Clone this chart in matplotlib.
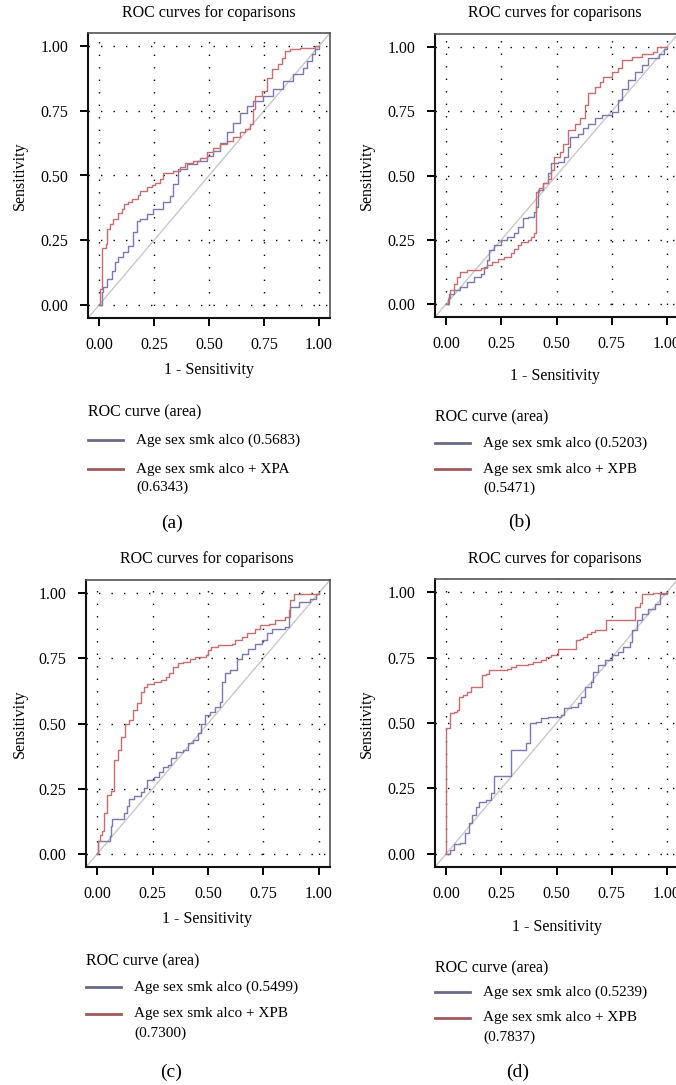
import matplotlib
matplotlib.use("Agg")
import matplotlib.pyplot as plt
from matplotlib.lines import Line2D

# Datos: (1 - especificidad, sensibilidad)
a_blue_x = [0, .012, .02, .035, .058, .073, .088, .11, .133, .156, .171, .186, .217, .247, .292, .323, .338, .36, .398, .444, .489, .52, .55, .58, .611, .641, .671, .702, .747, .792, .838, .883, .929, .944, .967, .982, 1]
a_blue_y = [0, .049, .068, .10, .132, .165, .184, .203, .229, .28, .325, .332, .351, .37, .396, .422, .467, .524, .544, .557, .576, .595, .627, .666, .704, .743, .769, .788, .807, .833, .865, .891, .916, .942, .968, .987, 1]
a_red_x = [0, .005, .012, .032, .038, .05, .065, .088, .103, .114, .133, .148, .179, .186, .217, .239, .255, .277, .292, .338, .368, .391, .429, .459, .489, .52, .55, .58, .611, .641, .664, .686, .702, .709, .739, .762, .785, .815, .83, .845, .868, .914, .982, 1]
a_red_y = [0, .062, .222, .235, .293, .312, .332, .357, .37, .389, .398, .409, .424, .441, .454, .463, .47, .486, .509, .518, .531, .55, .557, .569, .589, .608, .621, .634, .647, .666, .679, .698, .756, .807, .826, .878, .91, .929, .955, .981, .987, .994, 1, 1]

b_blue_x = [0, .012, .035, .065, .096, .126, .157, .17, .187, .195, .217, .248, .278, .309, .324, .347, .369, .40, .407, .415, .438, .46, .476, .506, .536, .552, .559, .597, .62, .643, .673, .704, .749, .78, .795, .825, .856, .886, .916, .962, .985, 1]
b_blue_y = [0, .04, .054, .067, .087, .106, .119, .145, .171, .21, .229, .249, .262, .275, .30, .333, .339, .359, .378, .443, .469, .508, .547, .553, .573, .611, .65, .663, .683, .702, .722, .734, .747, .793, .838, .87, .903, .929, .955, .974, .99, 1]
b_red_x = [0, .008, .02, .035, .05, .065, .096, .126, .157, .187, .21, .233, .263, .293, .309, .324, .339, .369, .384, .40, .407, .422, .438, .46, .476, .49, .514, .529, .552, .582, .605, .628, .643, .673, .696, .711, .749, .78, .795, .84, .886, .939, .954, 1]
b_red_y = [0, .022, .054, .08, .106, .126, .132, .132, .139, .152, .165, .177, .184, .197, .216, .229, .242, .249, .262, .275, .437, .45, .469, .488, .521, .573, .592, .624, .676, .702, .722, .773, .819, .845, .864, .883, .903, .916, .948, .961, .974, .98, 1, 1]

c_blue_x = [0, .003, .045, .058, .064, .068, .106, .121, .133, .144, .167, .197, .212, .227, .258, .28, .295, .318, .333, .356, .386, .409, .432, .455, .47, .485, .508, .53, .553, .561, .576, .598, .629, .652, .682, .712, .742, .765, .788, .848, .864, .871, .909, .962, .985, 1]
c_blue_y = [0, .048, .048, .068, .106, .134, .134, .157, .182, .21, .223, .236, .252, .284, .294, .316, .335, .341, .367, .392, .399, .424, .437, .462, .50, .532, .545, .564, .583, .66, .692, .704, .749, .768, .787, .806, .819, .845, .864, .87, .908, .946, .966, .978, .997, 1]
c_red_x = [0, .003, .012, .023, .033, .045, .064, .076, .094, .109, .124, .144, .164, .182, .197, .212, .227, .258, .288, .31, .326, .341, .364, .386, .417, .44, .492, .50, .515, .545, .606, .621, .652, .674, .712, .735, .773, .803, .848, .864, .871, .886, 1]
c_red_y = [0, .048, .074, .087, .157, .227, .24, .36, .40, .45, .50, .513, .55, .577, .62, .64, .653, .66, .666, .679, .692, .717, .73, .736, .749, .755, .762, .781, .794, .80, .806, .819, .832, .845, .864, .876, .883, .896, .908, .934, .972, .997, 1]

d_blue_x = [0, .017, .035, .065, .088, .103, .119, .134, .149, .179, .202, .217, .278, .296, .339, .362, .381, .407, .43, .46, .521, .536, .567, .597, .612, .628, .658, .666, .688, .719, .749, .78, .802, .833, .843, .866, .886, .916, .947, .97, 1]
d_blue_y = [0, .016, .036, .042, .08, .118, .15, .181, .20, .207, .232, .296, .296, .397, .397, .423, .499, .505, .518, .524, .53, .556, .562, .575, .60, .638, .657, .695, .721, .74, .759, .772, .791, .81, .854, .892, .917, .937, .956, .994, 1]
d_red_x = [0, 0, .012, .017, .035, .05, .058, .078, .093, .111, .157, .164, .179, .195, .278, .293, .316, .369, .392, .43, .453, .476, .506, .582, .59, .605, .62, .64, .658, .673, .719, .726, .848, .856, .878, .886, .939, 1]
d_red_y = [0, .48, .48, .537, .543, .55, .60, .607, .619, .638, .638, .683, .689, .702, .708, .714, .721, .727, .733, .74, .753, .759, .784, .784, .816, .822, .829, .839, .848, .854, .854, .892, .892, .943, .958, .994, .996, 1]

panel_tags = ["(a)", "(b)", "(c)", "(d)"]
blue_labels = ["Age sex smk alco (0.5683)", "Age sex smk alco (0.5203)",
               "Age sex smk alco (0.5499)", "Age sex smk alco (0.5239)"]
red_labels = ["Age sex smk alco + XPA", "Age sex smk alco + XPB",
              "Age sex smk alco + XPB", "Age sex smk alco + XPB"]
red_auc = ["(0.6343)", "(0.5471)", "(0.7300)", "(0.7837)"]
ticks = [0, 0.25, 0.5, 0.75, 1]
tick_labels = ["0.00", "0.25", "0.50", "0.75", "1.00"]

W, H = 676, 1085
plt.rcParams['font.family'] = ['Liberation Serif', 'DejaVu Serif']
plt.rcParams['font.size'] = 11

fig = plt.figure(figsize=(W / 100, H / 100), dpi=100)

def fx(x):
  return x / W

def fy(y):
  return 1 - y / H

# Caja de cada panel en pixeles: izquierda, arriba, derecha, abajo
boxes = [(88, 33, 330, 318), (435, 34, 678, 317), (86, 580, 330, 867), (435, 579, 678, 867)]
# Posiciones de textos por panel
layout = [
  dict(title=(209, 13), ylab=(20, 176), xlab=(209, 370), leg=(88, 412), l1=440, l2=469, l3=487, tag=(172, 523)),
  dict(title=(555, 13), ylab=(367, 176), xlab=(555, 376), leg=(435, 417), l1=443, l2=469, l3=488, tag=(520, 522)),
  dict(title=(207, 559), ylab=(20, 724), xlab=(207, 919), leg=(86, 961), l1=987, l2=1014, l3=1033, tag=(171, 1072)),
  dict(title=(555, 559), ylab=(367, 724), xlab=(557, 927), leg=(435, 968), l1=992, l2=1018, l3=1037, tag=(518, 1072)),
]
curves = [(a_blue_x, a_blue_y, a_red_x, a_red_y), (b_blue_x, b_blue_y, b_red_x, b_red_y),
          (c_blue_x, c_blue_y, c_red_x, c_red_y), (d_blue_x, d_blue_y, d_red_x, d_red_y)]

for i in range(4):
  l, t, r, b = boxes[i]
  ax = fig.add_axes([fx(l), fy(b), (r - l) / W, (b - t) / H])
  bx, by, rx, ry = curves[i]
  ax.plot([-0.05, 1.05], [-0.05, 1.05], color='#c8c8c8', lw=1.0, zorder=1)
  ax.plot(bx, by, drawstyle='steps-post', color='#7a7ab0', lw=1.0, zorder=3)
  ax.plot(rx, ry, drawstyle='steps-post', color='#c86e6e', lw=1.0, zorder=3)
  ax.set_xlim(-0.05, 1.05)
  ax.set_ylim(-0.05, 1.05)
  ax.set_xticks(ticks)
  ax.set_yticks(ticks)
  ax.set_xticklabels(tick_labels)
  ax.set_yticklabels(tick_labels)
  ax.tick_params(length=6, width=1.4, pad=8, labelsize=11.5, color='black')
  ax.grid(True, linestyle=(0, (1, 8)), color='black', lw=1.0)
  for s in ['left', 'bottom']:
    ax.spines[s].set_color('#111111')
    ax.spines[s].set_linewidth(1.5)
  for s in ['top', 'right']:
    ax.spines[s].set_color('#555555')
    ax.spines[s].set_linewidth(1.2)

  p = layout[i]
  fig.text(fx(p['title'][0]), fy(p['title'][1]), "ROC curves for coparisons", ha='center', va='center', fontsize=11.5)
  fig.text(fx(p['ylab'][0]), fy(p['ylab'][1]), "Sensitivity", ha='center', va='center', rotation=90, fontsize=11.5)
  fig.text(fx(p['xlab'][0]), fy(p['xlab'][1]), "1 - Sensitivity", ha='center', va='center', fontsize=11.5)
  # Leyenda dibujada a mano
  lx, ly = p['leg']
  fig.text(fx(lx), fy(ly), "ROC curve (area)", ha='left', va='center', fontsize=11.5)
  fig.add_artist(Line2D([fx(lx), fx(lx + 35)], [fy(p['l1']), fy(p['l1'])], color='#6a6a88', lw=2.0))
  fig.add_artist(Line2D([fx(lx), fx(lx + 35)], [fy(p['l2']), fy(p['l2'])], color='#a05a5a', lw=2.0))
  fig.text(fx(lx + 48), fy(p['l1']), blue_labels[i], ha='left', va='center', fontsize=11)
  fig.text(fx(lx + 48), fy(p['l2']), red_labels[i], ha='left', va='center', fontsize=11)
  fig.text(fx(lx + 48), fy(p['l3']), red_auc[i], ha='left', va='center', fontsize=11)
  fig.text(fx(p['tag'][0]), fy(p['tag'][1]), panel_tags[i], ha='center', va='center', fontsize=14)

fig.savefig("out.png", dpi=100)
